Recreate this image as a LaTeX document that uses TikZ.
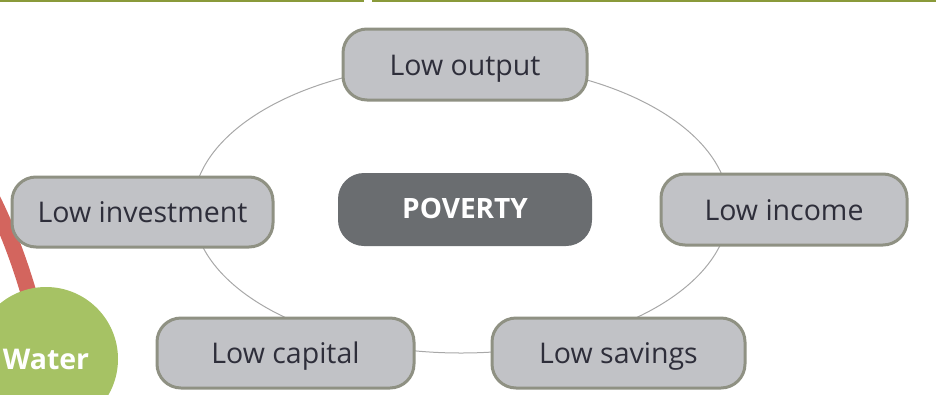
\documentclass[tikz,border=0pt]{standalone}
\usepackage{fontspec}
\setmainfont{Open Sans}
\usetikzlibrary{shapes.geometric}
\definecolor{olivebar}{HTML}{8A9A3A}
\definecolor{boxfill}{HTML}{C1C2C6}
\definecolor{boxline}{HTML}{8F9183}
\definecolor{povfill}{HTML}{6A6D70}
\definecolor{ringcol}{HTML}{A8A8A8}
\definecolor{txtcol}{HTML}{2E2E3A}
\definecolor{redband}{HTML}{D3655E}
\definecolor{watergreen}{HTML}{A6C264}
\tikzset{
  lowbox/.style={draw=boxline, line width=3pt, fill=boxfill, rounded corners=24pt,
    text=txtcol, font=\fontsize{28.5}{32}\selectfont, inner sep=0pt,
    text height=24pt, text depth=3pt},
  povbox/.style={fill=povfill, rounded corners=26pt, text=white,
    font=\fontsize{28}{32}\selectfont\bfseries, inner sep=0pt,
    text height=21pt, text depth=3pt},
  ringline/.style={draw=ringcol, line width=1pt},
  barline/.style={draw=olivebar, line width=2.5pt},
  redarc/.style={draw=redband, line width=16pt},
  waterdot/.style={circle, fill=watergreen, text=white, inner sep=0pt,
    font=\fontsize{28.5}{32}\selectfont\bfseries,
    text height=24pt, text depth=3pt}
}
\begin{document}
\begin{tikzpicture}[x=1pt,y=-1pt]
\useasboundingbox (0,0) rectangle (936,394);
% top bars
\coordinate (b1s) at (0,1.2);
\coordinate (b1e) at (364,1.2);
\coordinate (b2s) at (372,1.2);
\coordinate (b2e) at (936,1.2);
\draw[barline] (b1s) -- (b1e);
\draw[barline] (b2s) -- (b2e);
% cycle ring
\node[ellipse, ringline, minimum width=536pt, minimum height=290pt, inner sep=0pt] (ring) at (461,208) {};
% left partial elements
\coordinate (redstart) at (-12,190);
\coordinate (watercenter) at (46,359);
\draw[redarc] (redstart) .. controls (8,230) and (25,270) .. (watercenter);
\node[waterdot, minimum size=144pt] (water) at (watercenter) {Water};
% nodes
\node[lowbox, minimum width=244pt, minimum height=71pt] (output) at (465,64.5) {Low output};
\node[povbox, minimum width=254pt, minimum height=73pt] (poverty) at (465,209.5) {POVERTY};
\node[lowbox, minimum width=246pt, minimum height=71pt] (income) at (784,209.5) {Low income};
\node[lowbox, minimum width=261pt, minimum height=70pt] (investment) at (142.5,212) {Low investment};
\node[lowbox, minimum width=257pt, minimum height=70pt] (capital) at (285.5,353) {Low capital};
\node[lowbox, minimum width=253pt, minimum height=70pt] (savings) at (618.5,353) {Low savings};
\end{tikzpicture}
\end{document}
